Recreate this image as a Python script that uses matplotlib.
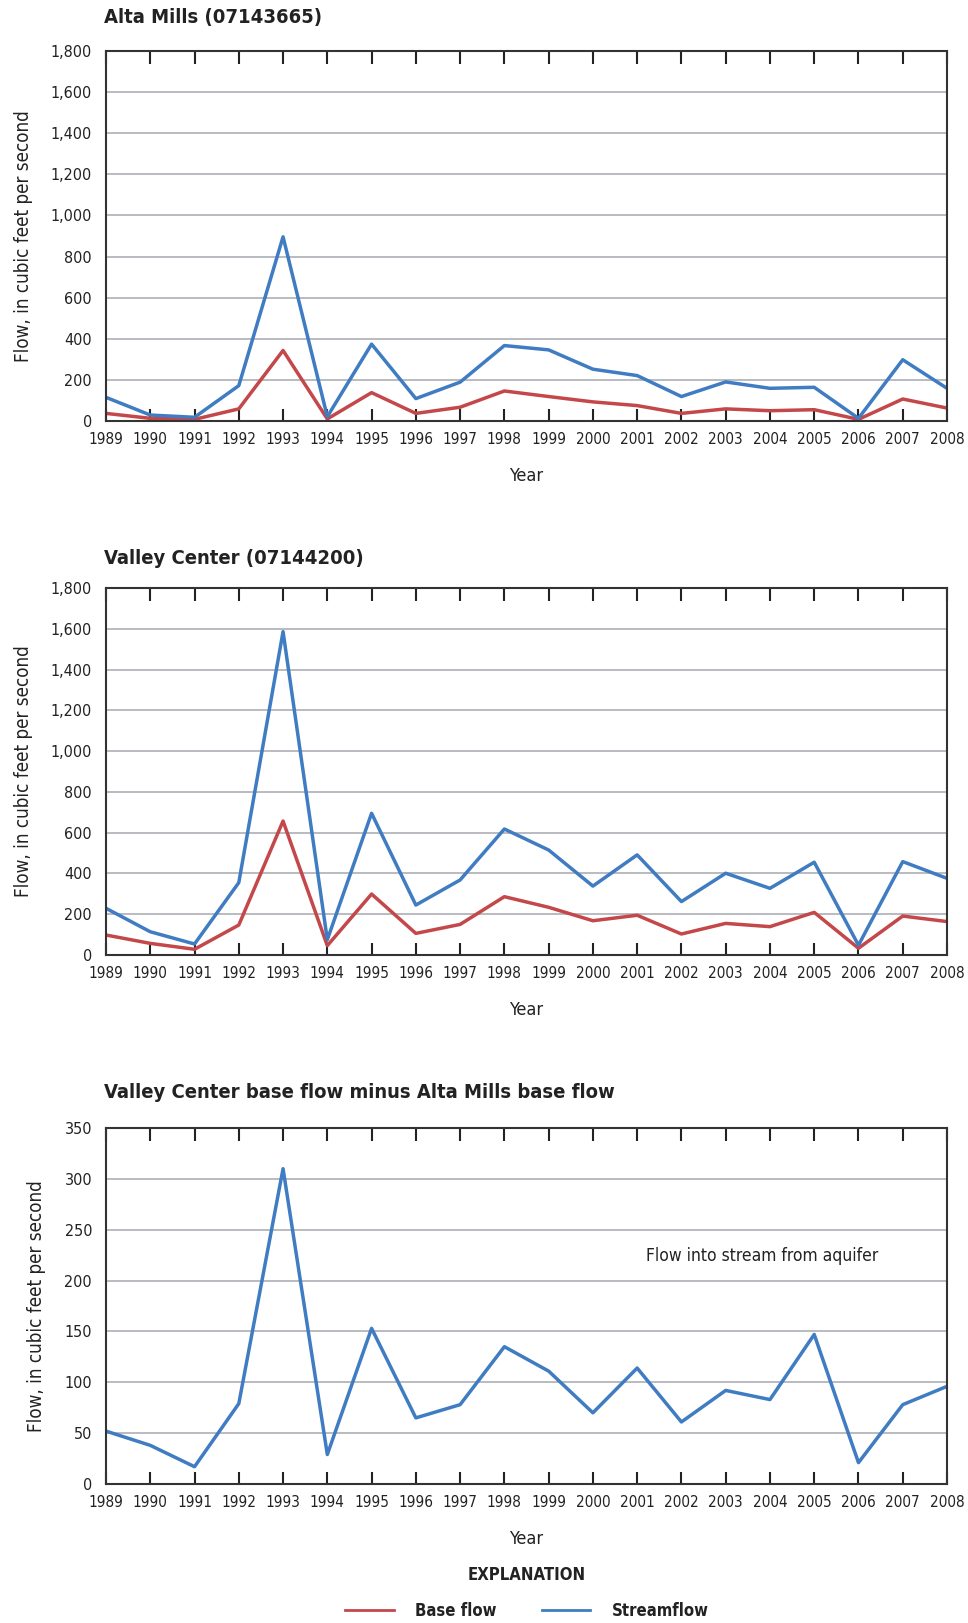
import numpy as np
import matplotlib
matplotlib.use("Agg")
import matplotlib.pyplot as plt
from matplotlib.ticker import StrMethodFormatter
from matplotlib.lines import Line2D

plt.rcParams['font.family'] = ['DejaVu Sans']
plt.rcParams['font.stretch'] = 'condensed'

years = list(range(1989, 2009))

# Alta Mills (07143665)
alta_stream = [115, 29, 18, 172, 896, 21, 374, 109, 189, 367,
               346, 252, 221, 119, 190, 159, 164, 13, 298, 159]
alta_base = [37, 13, 8, 59, 343, 10, 138, 37, 67, 146,
             119, 93, 75, 37, 59, 50, 55, 8, 107, 63]

# Valley Center (07144200)
vc_stream = [229, 114, 54, 355, 1586, 75, 695, 245, 368, 618,
             515, 338, 491, 262, 401, 327, 455, 48, 458, 376]
vc_base = [98, 57, 28, 147, 657, 46, 299, 106, 150, 286,
           234, 168, 195, 103, 155, 139, 209, 33, 191, 164]

# Valley Center base flow minus Alta Mills base flow
diff_flow = [52, 38, 17, 79, 310, 29, 153, 65, 78, 135,
             111, 70, 114, 61, 92, 83, 147, 21, 78, 96]

titles = ["Alta Mills (07143665)",
          "Valley Center (07144200)",
          "Valley Center base flow minus Alta Mills base flow"]

BLUE = '#3f7cc2'
RED = '#c4474a'
W, H = 968, 1623

fig = plt.figure(figsize=(W / 100, H / 100), dpi=100)


def make_axes(top, bottom):
    return fig.add_axes([106 / W, 1 - bottom / H, 841 / W, (bottom - top) / H])


def style(ax, ymax, ystep):
    ax.set_xlim(1989, 2008)
    ax.set_ylim(0, ymax)
    ax.set_xticks(years)
    ax.set_yticks(np.arange(0, ymax + 1, ystep))
    ax.yaxis.set_major_formatter(StrMethodFormatter('{x:,.0f}'))
    ax.grid(axis='y', color='#b4b4bc', lw=1.3)
    ax.set_axisbelow(True)
    ax.tick_params(axis='x', direction='in', top=True, bottom=True,
                   length=9, width=1.5, color='#222222',
                   labelsize=11, pad=8, labelcolor='#222222')
    ax.tick_params(axis='y', length=0, labelsize=11.5, pad=10, labelcolor='#222222')
    for s in ax.spines.values():
        s.set_color('#333333')
        s.set_linewidth(1.5)
    ax.set_xlabel("Year", fontsize=13, color='#222222', labelpad=14)
    ax.set_ylabel("Flow, in cubic feet per second", fontsize=13.5,
                  color='#222222', labelpad=13)


ax1 = make_axes(51, 421)
ax1.plot(years, alta_base, color=RED, lw=2.5)
ax1.plot(years, alta_stream, color=BLUE, lw=2.5)
style(ax1, 1800, 200)

ax2 = make_axes(588, 955)
ax2.plot(years, vc_base, color=RED, lw=2.5)
ax2.plot(years, vc_stream, color=BLUE, lw=2.5)
style(ax2, 1800, 200)

ax3 = make_axes(1128, 1484)
ax3.plot(years, diff_flow, color=BLUE, lw=2.5)
style(ax3, 350, 50)
ax3.text(0.642, 0.64, "Flow into stream from aquifer", transform=ax3.transAxes,
         fontsize=12.5, color='#222222', va='center', ha='left')

for t, yc in zip(titles, [18, 558, 1093]):
    fig.text(104 / W, 1 - yc / H, t, fontsize=14.5, fontweight='bold',
             color='#222222', ha='left', va='center')

handles = [Line2D([], [], color=RED, lw=2), Line2D([], [], color=BLUE, lw=2)]
leg = fig.legend(handles, ["Base flow", "Streamflow"], loc='center',
                 bbox_to_anchor=(527 / W, 1 - 1593 / H), ncol=2, frameon=False,
                 title="EXPLANATION", fontsize=12, handlelength=2.9,
                 handletextpad=1.3, columnspacing=2.7, labelspacing=1.1,
                 title_fontproperties={'weight': 'bold', 'size': 12})
for txt in leg.get_texts():
    txt.set_fontweight('bold')
    txt.set_color('#222222')
leg.get_title().set_color('#222222')

fig.savefig("out.png", dpi=100)
